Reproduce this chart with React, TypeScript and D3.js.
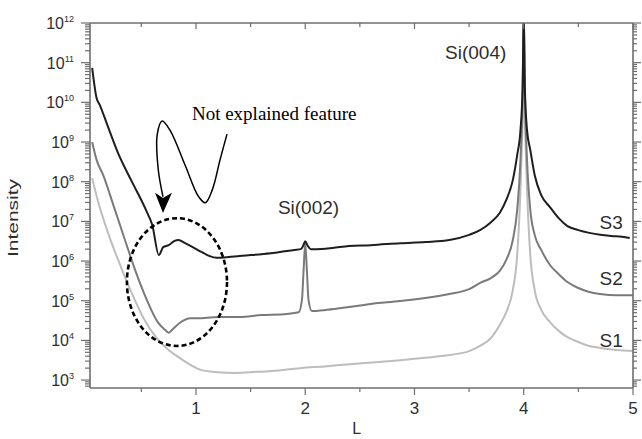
import React from 'react';
import * as d3 from 'd3';

const W = 642;
const H = 439;
const M = { left: 90, right: 9, top: 23, bottom: 51 };

// L values (reciprocal lattice units) and log10(intensity) for each sample
const s3L = [0.05, 0.09, 0.12, 0.19, 0.29, 0.41, 0.55, 0.6, 0.66, 0.7, 0.75, 0.8, 0.84, 0.9, 0.97, 1.05, 1.12, 1.19, 1.3, 1.4, 1.5, 1.62, 1.77, 1.9, 1.96, 1.98, 2.0, 2.02, 2.05, 2.1, 2.25, 2.4, 2.6, 2.87, 3.1, 3.32, 3.5, 3.6, 3.7, 3.78, 3.84, 3.9, 3.94, 3.97, 3.99, 4.0, 4.01, 4.03, 4.06, 4.1, 4.16, 4.24, 4.32, 4.4, 4.5, 4.6, 4.7, 4.8, 4.9, 4.97];
const s3Log = [10.87, 10.11, 9.93, 9.42, 8.7, 8.02, 7.24, 6.91, 6.15, 6.35, 6.4, 6.5, 6.53, 6.45, 6.35, 6.23, 6.13, 6.08, 6.1, 6.13, 6.15, 6.18, 6.23, 6.28, 6.3, 6.38, 6.5, 6.4, 6.3, 6.3, 6.33, 6.38, 6.4, 6.45, 6.48, 6.53, 6.66, 6.78, 6.98, 7.21, 7.54, 8.04, 8.67, 9.3, 10.4, 12.3, 10.4, 9.3, 8.8, 8.17, 7.66, 7.36, 7.08, 6.88, 6.78, 6.71, 6.66, 6.63, 6.61, 6.58];

const s2L = [0.05, 0.09, 0.15, 0.25, 0.35, 0.45, 0.55, 0.65, 0.72, 0.75, 0.78, 0.85, 0.95, 1.05, 1.2, 1.4, 1.6, 1.8, 1.94, 1.97, 1.985, 2.0, 2.015, 2.03, 2.06, 2.2, 2.4, 2.6, 2.87, 3.1, 3.32, 3.5, 3.6, 3.7, 3.78, 3.84, 3.9, 3.94, 3.97, 3.99, 4.0, 4.01, 4.03, 4.06, 4.1, 4.16, 4.24, 4.32, 4.4, 4.5, 4.6, 4.7, 4.85, 5.0];
const s2Log = [9.0, 8.55, 8.17, 7.36, 6.53, 5.72, 5.02, 4.46, 4.26, 4.19, 4.26, 4.44, 4.56, 4.56, 4.59, 4.59, 4.64, 4.66, 4.71, 5.02, 5.77, 6.45, 5.77, 5.02, 4.74, 4.77, 4.84, 4.92, 4.99, 5.07, 5.17, 5.29, 5.45, 5.57, 5.75, 6.03, 6.53, 7.29, 8.55, 10.31, 12.3, 10.31, 8.55, 7.29, 6.66, 6.28, 5.9, 5.67, 5.47, 5.32, 5.22, 5.17, 5.14, 5.14];

const s1L = [0.05, 0.1, 0.18, 0.28, 0.4, 0.52, 0.64, 0.75, 0.85, 0.95, 1.05, 1.2, 1.35, 1.5, 1.7, 1.95, 2.2, 2.41, 2.65, 2.87, 3.1, 3.32, 3.5, 3.6, 3.7, 3.78, 3.84, 3.9, 3.94, 3.97, 3.99, 4.0, 4.01, 4.03, 4.06, 4.1, 4.16, 4.24, 4.32, 4.4, 4.5, 4.6, 4.7, 4.85, 5.0];
const s1Log = [8.09, 7.54, 6.83, 6.08, 5.27, 4.56, 4.06, 3.76, 3.56, 3.38, 3.25, 3.2, 3.18, 3.2, 3.23, 3.3, 3.35, 3.4, 3.45, 3.5, 3.56, 3.63, 3.73, 3.86, 4.06, 4.39, 4.71, 5.27, 6.15, 7.79, 9.55, 10.49, 9.55, 7.79, 6.15, 5.27, 4.77, 4.46, 4.24, 4.08, 3.96, 3.86, 3.81, 3.76, 3.73];

const yExponents = [3, 4, 5, 6, 7, 8, 9, 10, 11, 12];
const xTicks = [1, 2, 3, 4, 5];
const xMinorTicks = [0.5, 1.5, 2.5, 3.5, 4.5];

const series = [
  { name: 'S1', L: s1L, v: s1Log, color: '#bdbdbd', labelAt: [4.8, 4.0] },
  { name: 'S2', L: s2L, v: s2Log, color: '#7a7a7a', labelAt: [4.8, 5.57] },
  { name: 'S3', L: s3L, v: s3Log, color: '#1e1e1e', labelAt: [4.8, 6.98] },
];

// annotation geometry in data units (L, log10 I)
const peakLabels = [
  { text: 'Si(002)', at: [2.03, 7.36] },
  { text: 'Si(004)', at: [3.56, 11.27] },
];
const noteAt = [0.963, 9.56];
const ellipseAt = { c: [0.826, 5.47], rx: 0.458, ry: 1.61 };
const squiggle: [number, number][] = [
  [1.284, 9.2], [1.22, 8.55], [1.15, 7.8], [1.085, 7.47], [1.02, 7.64], [0.9, 8.42],
  [0.762, 9.3], [0.69, 9.53], [0.645, 9.18], [0.655, 8.3], [0.698, 7.62],
];
const arrowHead: [number, number][] = [[0.698, 7.21], [0.625, 7.72], [0.698, 7.59], [0.78, 7.72]];

const sans = 'Liberation Sans, Arial, Helvetica, sans-serif';
const serif = 'Liberation Serif, Times New Roman, serif';
const axisColor = '#6e6e6e';
const textColor = '#2e2e2e';

export default function App() {
  const x = d3.scaleLinear().domain([0.03, 5]).range([M.left, W - M.right]);
  const y = d3.scaleLog().domain([10 ** 2.8, 10 ** 12]).range([H - M.bottom, M.top]);
  const px = (d: number[]) => [x(d[0]), y(10 ** d[1])];

  const minorY: number[] = [];
  for (let e = 2; e < 12; e++) {
    for (let k = 2; k <= 9; k++) {
      const v = k * 10 ** e;
      if (v > 10 ** 2.8 && v < 10 ** 12) minorY.push(v);
    }
  }

  const x0 = M.left;
  const x1 = W - M.right;
  const y0 = H - M.bottom;
  const y1 = M.top;

  const squigglePath = d3.line().curve(d3.curveCatmullRom.alpha(0.5))(squiggle.map((d) => px(d) as [number, number])) || '';
  const headPts = arrowHead.map((d) => px(d));
  const [ecx, ecy] = px(ellipseAt.c);
  const erx = x(ellipseAt.c[0] + ellipseAt.rx) - ecx;
  const ery = ecy - y(10 ** (ellipseAt.c[1] + ellipseAt.ry));

  return (
    <div style={{ position: 'absolute', left: 0, top: 0 }}>
      <svg width={W} height={H} style={{ display: 'block', background: '#fff' }}>
        <defs>
          <clipPath id="plot">
            <rect x={x0} y={y1} width={x1 - x0} height={y0 - y1} />
          </clipPath>
        </defs>

        {/* curves */}
        <g clipPath="url(#plot)">
          {series.map((s) => {
            const d = d3
              .line<number>()
              .x((_, i) => x(s.L[i]))
              .y((v) => y(10 ** v))
              .curve(d3.curveMonotoneX)(s.v);
            return <path key={s.name} d={d || ''} fill="none" stroke={s.color} strokeWidth={2} strokeLinejoin="round" />;
          })}
        </g>

        {/* frame */}
        <g stroke={axisColor} strokeWidth={1.6} fill="none">
          <line x1={x0} y1={y1} x2={x1} y2={y1} />
          <line x1={x0} y1={y0} x2={x1} y2={y0} />
          <line x1={x0} y1={y1} x2={x0} y2={y0} />
          <line x1={x1} y1={y1} x2={x1} y2={y0} />
        </g>

        {/* y ticks */}
        <g stroke={axisColor} strokeWidth={1.2}>
          {yExponents.map((e) => (
            <g key={'ym' + e}>
              <line x1={x0 - 9} x2={x0} y1={y(10 ** e)} y2={y(10 ** e)} />
              <line x1={x1} x2={x1 + 8} y1={y(10 ** e)} y2={y(10 ** e)} />
            </g>
          ))}
          {minorY.map((v, i) => (
            <g key={'yn' + i}>
              <line x1={x0 - 5} x2={x0} y1={y(v)} y2={y(v)} />
              <line x1={x1} x2={x1 + 4} y1={y(v)} y2={y(v)} />
            </g>
          ))}
        </g>

        {/* x ticks */}
        <g stroke={axisColor} strokeWidth={1.2}>
          {xTicks.map((t) => (
            <g key={'xt' + t}>
              <line x1={x(t)} x2={x(t)} y1={y0} y2={y0 + 7} />
              <line x1={x(t)} x2={x(t)} y1={y1} y2={y1 + 6} />
            </g>
          ))}
          {xMinorTicks.map((t) => (
            <g key={'xn' + t}>
              <line x1={x(t)} x2={x(t)} y1={y0} y2={y0 + 4} />
              <line x1={x(t)} x2={x(t)} y1={y1} y2={y1 + 4} />
            </g>
          ))}
        </g>

        {/* tick labels */}
        <g fill={textColor} fontFamily={sans}>
          {yExponents.map((e) => (
            <text key={'yl' + e} x={x0 - 16} y={y(10 ** e) + 6} fontSize={16} textAnchor="end">
              10
              <tspan dy={-7} fontSize={9}>
                {e}
              </tspan>
            </text>
          ))}
          {xTicks.map((t) => (
            <text key={'xl' + t} x={x(t)} y={y0 + 26} fontSize={17} textAnchor="middle">
              {t}
            </text>
          ))}
          <text x={x(2.47)} y={H - 5} fontSize={16} textAnchor="middle">
            L
          </text>
          <text
            transform={`translate(18, 218) rotate(-90)`}
            fontSize={14}
            textAnchor="middle"
            textLength={78}
            lengthAdjust="spacingAndGlyphs"
          >
            Intensity
          </text>
        </g>

        {/* peak and series labels */}
        <g fill={textColor} fontFamily={sans} fontSize={19}>
          {peakLabels.map((p) => (
            <text key={p.text} x={x(p.at[0])} y={y(10 ** p.at[1]) + 7} textAnchor="middle">
              {p.text}
            </text>
          ))}
          {series.map((s) => (
            <text key={'lab' + s.name} x={x(s.labelAt[0])} y={y(10 ** s.labelAt[1]) + 7} textAnchor="middle">
              {s.name}
            </text>
          ))}
        </g>

        {/* annotation */}
        <text x={x(noteAt[0])} y={y(10 ** noteAt[1])} fontFamily={serif} fontSize={19} fill="#000">
          Not explained feature
        </text>
        <path d={squigglePath} fill="none" stroke="#000" strokeWidth={1.5} />
        <path d={'M' + headPts.map((p) => p.join(',')).join('L') + 'Z'} fill="#000" />
        <ellipse cx={ecx} cy={ecy} rx={erx} ry={ery} fill="none" stroke="#000" strokeWidth={2.6} strokeDasharray="5 3" />
      </svg>
    </div>
  );
}
